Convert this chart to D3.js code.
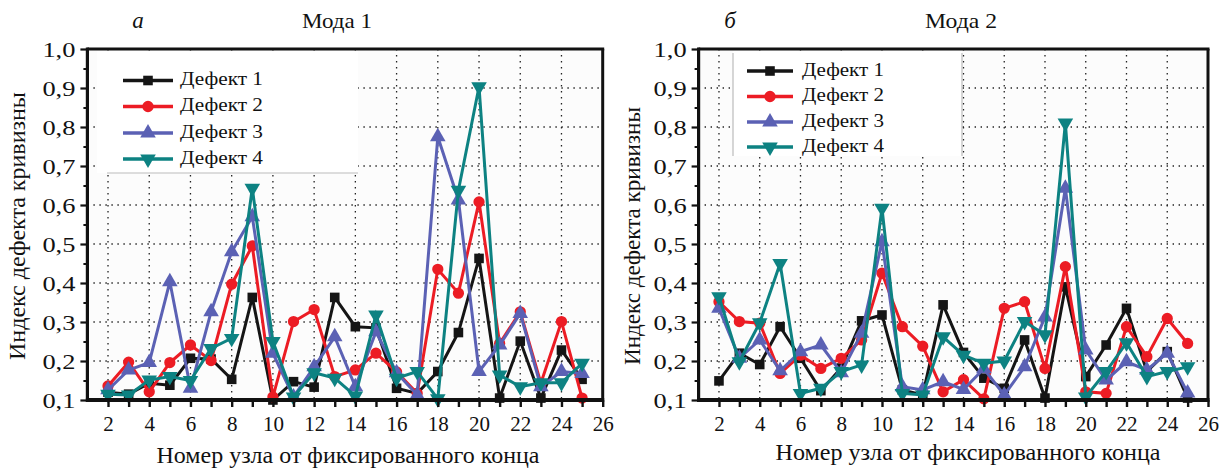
<!DOCTYPE html>
<html>
<head>
<meta charset="utf-8">
<script src="https://cdn.jsdelivr.net/npm/d3@7/dist/d3.min.js"></script>
<style>
  html, body { margin: 0; padding: 0; background: #fff; }
  svg { display: block; }
</style>
</head>
<body>
<svg id="chart" width="1227" height="471"></svg>
<script>
// Node numbers counted from the fixed end
const nodes = [2, 3, 4, 5, 6, 7, 8, 9, 10, 11, 12, 13, 14, 15, 16, 17, 18, 19, 20, 21, 22, 23, 24, 25];

// Curvature defect index, mode 1
const mode1Defect1 = [0.12, 0.115, 0.143, 0.138, 0.207, 0.205, 0.153, 0.363, 0.1, 0.147, 0.133, 0.363, 0.288, 0.285, 0.13, 0.117, 0.173, 0.273, 0.463, 0.105, 0.251, 0.105, 0.228, 0.153];
const mode1Defect2 = [0.136, 0.197, 0.121, 0.196, 0.241, 0.201, 0.397, 0.495, 0.108, 0.301, 0.332, 0.16, 0.177, 0.22, 0.172, 0.117, 0.435, 0.374, 0.608, 0.245, 0.326, 0.143, 0.301, 0.105];
const mode1Defect3 = [0.126, 0.177, 0.196, 0.403, 0.13, 0.326, 0.48, 0.57, 0.22, 0.108, 0.185, 0.262, 0.134, 0.275, 0.17, 0.113, 0.775, 0.613, 0.173, 0.241, 0.322, 0.134, 0.173, 0.168];
const mode1Defect4 = [0.115, 0.113, 0.151, 0.16, 0.15, 0.232, 0.258, 0.643, 0.25, 0.108, 0.17, 0.156, 0.11, 0.318, 0.156, 0.173, 0.103, 0.638, 0.903, 0.164, 0.134, 0.144, 0.144, 0.194];

// Curvature defect index, mode 2
const mode2Defect1 = [0.149, 0.22, 0.191, 0.288, 0.207, 0.124, 0.182, 0.303, 0.318, 0.126, 0.113, 0.344, 0.222, 0.156, 0.13, 0.254, 0.105, 0.39, 0.16, 0.241, 0.335, 0.173, 0.224, 0.105];
const mode2Defect2 = [0.352, 0.301, 0.297, 0.168, 0.215, 0.181, 0.207, 0.254, 0.425, 0.288, 0.238, 0.121, 0.152, 0.103, 0.335, 0.352, 0.181, 0.442, 0.121, 0.117, 0.288, 0.211, 0.309, 0.245];
const mode2Defect3 = [0.335, 0.207, 0.254, 0.175, 0.224, 0.241, 0.17, 0.271, 0.506, 0.134, 0.126, 0.147, 0.127, 0.18, 0.113, 0.185, 0.313, 0.643, 0.228, 0.151, 0.198, 0.177, 0.22, 0.118];
const mode2Defect4 = [0.365, 0.198, 0.298, 0.45, 0.117, 0.13, 0.173, 0.19, 0.592, 0.117, 0.113, 0.262, 0.215, 0.194, 0.2, 0.301, 0.267, 0.81, 0.108, 0.173, 0.247, 0.16, 0.173, 0.185];

const seriesNames = ["Дефект 1", "Дефект 2", "Дефект 3", "Дефект 4"];
const seriesColors = ["#151515", "#ec1c24", "#5b61b4", "#0d8282"];
const seriesSymbols = ["square", "circle", "triangleUp", "triangleDown"];

const xTickValues = [2, 4, 6, 8, 10, 12, 14, 16, 18, 20, 22, 24, 26];
const yTickValues = [0.1, 0.2, 0.3, 0.4, 0.5, 0.6, 0.7, 0.8, 0.9, 1.0];
const xGridValues = [2, 4, 6, 8, 10, 12, 14, 16, 18, 20, 22, 24];
const yGridValues = [0.2, 0.3, 0.4, 0.5, 0.6, 0.7, 0.8, 0.9];

const panelLetters = ["а", "б"];
const panelTitles = ["Мода 1", "Мода 2"];
const xAxisTitle = "Номер узла от фиксированного конца";
const yAxisTitle = "Индекс дефекта кривизны";

const FONT = '"Liberation Serif"';
const svg = d3.select("#chart");
const fmt = v => d3.format(".1f")(v).replace(".", ",");

// serif text, optionally stretched to a given width
function styleText(sel, size, width) {
  sel.style("font-family", FONT).style("font-size", size + "px").attr("fill", "#111");
  if (width) sel.attr("textLength", width).attr("lengthAdjust", "spacingAndGlyphs");
  return sel;
}

function symbolPath(kind) {
  if (kind === "square") return d3.symbol(d3.symbolSquare, 92)();
  if (kind === "circle") return d3.symbol(d3.symbolCircle, 100)();
  return d3.symbol(d3.symbolTriangle, 105)();
}
function symbolTransform(kind, x, y) {
  return kind === "triangleDown" ? `translate(${x},${y}) rotate(180)` : `translate(${x},${y})`;
}

function drawPanel(cfg) {
  const x = d3.scaleLinear().domain([1, 26]).range([cfg.left, cfg.right]);
  const y = d3.scaleLinear().domain([0.1, 1.0]).range([cfg.bottom, cfg.top]);
  const g = svg.append("g");

  // plot background
  g.append("rect")
    .attr("x", x(1)).attr("y", y(1.0))
    .attr("width", x(26) - x(1)).attr("height", y(0.1) - y(1.0))
    .attr("fill", "#fcfcfc");

  // dotted grid
  g.append("g").selectAll("line").data(xGridValues).join("line")
    .attr("x1", d => x(d)).attr("x2", d => x(d))
    .attr("y1", y(1.0)).attr("y2", y(0.1))
    .attr("stroke", "#222").attr("stroke-width", 1.3)
    .attr("stroke-dasharray", "1.4 4.6");
  g.append("g").selectAll("line").data(yGridValues).join("line")
    .attr("x1", x(1)).attr("x2", x(26))
    .attr("y1", d => y(d)).attr("y2", d => y(d))
    .attr("stroke", "#222").attr("stroke-width", 1.3)
    .attr("stroke-dasharray", "1.4 4.6");

  // legend box
  const lg = cfg.legend;
  g.append("rect")
    .attr("x", lg.boxX).attr("y", y(1.0) + 2)
    .attr("width", lg.boxW).attr("height", lg.boxH)
    .attr("fill", "#fff");
  if (lg.style === "bottom") {
    g.append("line")
      .attr("x1", lg.boxX + 10).attr("x2", lg.boxX + lg.boxW)
      .attr("y1", y(1.0) + 2 + lg.boxH).attr("y2", y(1.0) + 2 + lg.boxH)
      .attr("stroke", "#bbb").attr("stroke-width", 1.2);
  } else {
    [lg.boxX, lg.boxX + lg.boxW].forEach(px => {
      g.append("line")
        .attr("x1", px).attr("x2", px)
        .attr("y1", y(1.0) + 4).attr("y2", y(1.0) + 2 + lg.boxH)
        .attr("stroke", "#bbb").attr("stroke-width", 1.2);
    });
  }

  // series
  const line = d3.line().x((d, i) => x(nodes[i])).y(d => y(d));
  cfg.series.forEach((vals, k) => {
    g.append("path").datum(vals)
      .attr("d", line)
      .attr("fill", "none")
      .attr("stroke", seriesColors[k])
      .attr("stroke-width", 3)
      .attr("stroke-linejoin", "miter");
    g.append("g").selectAll("path").data(vals).join("path")
      .attr("d", symbolPath(seriesSymbols[k]))
      .attr("transform", (d, i) => symbolTransform(seriesSymbols[k], x(nodes[i]), y(d)))
      .attr("fill", seriesColors[k]);
  });

  // legend entries
  seriesNames.forEach((name, k) => {
    const ry = lg.rowY[k];
    g.append("line")
      .attr("x1", lg.lineX1).attr("x2", lg.lineX2)
      .attr("y1", ry).attr("y2", ry)
      .attr("stroke", seriesColors[k]).attr("stroke-width", 3.5);
    g.append("path")
      .attr("d", symbolPath(seriesSymbols[k]))
      .attr("transform", symbolTransform(seriesSymbols[k], (lg.lineX1 + lg.lineX2) / 2, ry))
      .attr("fill", seriesColors[k]);
    styleText(g.append("text")
      .attr("x", lg.textX).attr("y", ry + 4.5)
      .text(name), 19, lg.textW);
  });

  // frame: top and right
  g.append("line")
    .attr("x1", x(1)).attr("x2", x(26) + 1.5)
    .attr("y1", y(1.0)).attr("y2", y(1.0))
    .attr("stroke", "#111").attr("stroke-width", 3);
  g.append("line")
    .attr("x1", x(26)).attr("x2", x(26))
    .attr("y1", y(1.0)).attr("y2", y(0.1))
    .attr("stroke", "#111").attr("stroke-width", 3);

  // y axis with minor ticks
  const yAxis = g.append("g").attr("transform", `translate(${x(1)},0)`)
    .call(d3.axisLeft(y).tickValues(yTickValues).tickFormat(fmt).tickSize(7).tickPadding(5));
  yAxis.select(".domain").remove();
  yAxis.selectAll(".tick line").attr("stroke", "#111").attr("stroke-width", 2.2);
  styleText(yAxis.selectAll(".tick text"), 21, 33).attr("dy", "0.34em");
  const yMinor = g.append("g").attr("transform", `translate(${x(1)},0)`)
    .call(d3.axisLeft(y).tickValues([0.15, 0.25, 0.35, 0.45, 0.55, 0.65, 0.75, 0.85, 0.95]).tickFormat("").tickSize(4));
  yMinor.select(".domain").remove();
  yMinor.selectAll(".tick line").attr("stroke", "#111").attr("stroke-width", 2);
  g.append("line")
    .attr("x1", x(1)).attr("x2", x(1))
    .attr("y1", y(1.0) - 1.5).attr("y2", y(0.1) + 2)
    .attr("stroke", "#111").attr("stroke-width", 3.2);

  // x axis with minor ticks
  const xAxis = g.append("g").attr("transform", `translate(0,${y(0.1)})`)
    .call(d3.axisBottom(x).tickValues(xTickValues).tickFormat(d3.format("d")).tickSize(7).tickPadding(9));
  xAxis.select(".domain").remove();
  xAxis.selectAll(".tick line").attr("stroke", "#111").attr("stroke-width", 2.4);
  styleText(xAxis.selectAll(".tick text"), 21);
  const xMinor = g.append("g").attr("transform", `translate(0,${y(0.1)})`)
    .call(d3.axisBottom(x).tickValues([3, 5, 7, 9, 11, 13, 15, 17, 19, 21, 23, 25]).tickFormat("").tickSize(7));
  xMinor.select(".domain").remove();
  xMinor.selectAll(".tick line").attr("stroke", "#111").attr("stroke-width", 2.4);
  g.append("line")
    .attr("x1", x(1) - 1.5).attr("x2", x(26) + 1.5)
    .attr("y1", y(0.1)).attr("y2", y(0.1))
    .attr("stroke", "#111").attr("stroke-width", 4);

  // titles
  styleText(g.append("text")
    .attr("x", cfg.letterX).attr("y", 28)
    .attr("text-anchor", "middle")
    .style("font-style", "italic")
    .text(cfg.letter), 23);
  styleText(g.append("text")
    .attr("x", cfg.titleX).attr("y", 28)
    .attr("text-anchor", "middle")
    .text(cfg.title), 22, cfg.titleW);
  styleText(g.append("text")
    .attr("x", cfg.xTitleX).attr("y", cfg.xTitleY)
    .attr("text-anchor", "middle")
    .text(xAxisTitle), 23, cfg.xTitleW);
  styleText(g.append("text")
    .attr("transform", `translate(${cfg.yTitleX},${cfg.yTitleY}) rotate(-90)`)
    .attr("text-anchor", "middle")
    .text(yAxisTitle), 23, cfg.yTitleW);
}

drawPanel({
  left: 87.4, right: 602.7, top: 49, bottom: 400,
  series: [mode1Defect1, mode1Defect2, mode1Defect3, mode1Defect4],
  letter: panelLetters[0], title: panelTitles[0],
  letterX: 138, titleX: 337, titleW: 70,
  xTitleX: 348, xTitleY: 463, xTitleW: 383,
  yTitleX: 25, yTitleY: 226, yTitleW: 268,
  legend: {
    style: "bottom", boxX: 97, boxW: 261, boxH: 122,
    lineX1: 123, lineX2: 173, textX: 180, textW: 83,
    rowY: [80.5, 106.5, 133, 159]
  }
});

drawPanel({
  left: 698.6, right: 1208, top: 49, bottom: 400,
  series: [mode2Defect1, mode2Defect2, mode2Defect3, mode2Defect4],
  letter: panelLetters[1], title: panelTitles[1],
  letterX: 730, titleX: 961, titleW: 72,
  xTitleX: 968, xTitleY: 460, xTitleW: 385,
  yTitleX: 640, yTitleY: 236, yTitleW: 258,
  legend: {
    style: "sides", boxX: 733, boxW: 229, boxH: 105,
    lineX1: 747, lineX2: 793, textX: 802, textW: 82,
    rowY: [71, 96.5, 122, 147]
  }
});
</script>
</body>
</html>
